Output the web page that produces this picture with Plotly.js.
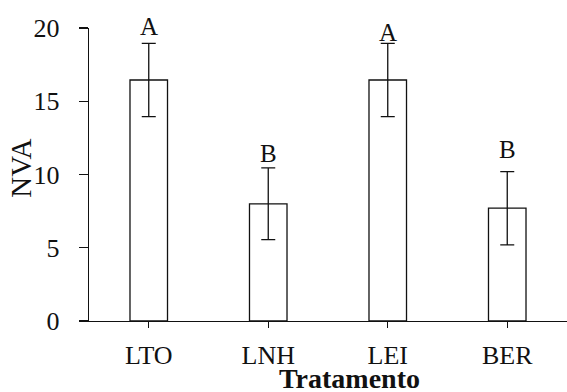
<!DOCTYPE html>
<html>
<head>
<meta charset="utf-8">
<script src="https://cdn.plot.ly/plotly-3.0.1.min.js"></script>
<style>html,body{margin:0;padding:0;background:#fff;}#chart{width:567px;height:392px;}</style>
</head>
<body>
<div id="chart"></div>
<script>
var categories = ["LTO", "LNH", "LEI", "BER"];
var nvaValues = [16.45, 8.0, 16.45, 7.7];
var nvaErrors = [2.5, 2.45, 2.5, 2.5];
var groupLetters = ["A", "B", "A", "B"];
var letterShift = [16, 14, 10, 22];
var yTickValues = [0, 5, 10, 15, 20];

var font = "Liberation Serif";

var trace = {
  type: "bar",
  x: categories,
  y: nvaValues,
  marker: {color: "#ffffff", line: {color: "#111111", width: 1.3}},
  error_y: {type: "data", array: nvaErrors, visible: true, color: "#111111", thickness: 1.3, width: 7},
  hoverinfo: "none"
};

var annotations = categories.map(function (c, i) {
  return {
    x: c, y: nvaValues[i] + nvaErrors[i], xref: "x", yref: "y",
    text: groupLetters[i], showarrow: false, yanchor: "bottom", yshift: letterShift[i] - 15,
    font: {family: font, size: 25, color: "#111111"}
  };
});
annotations.push({
  xref: "paper", yref: "paper", x: -0.142, y: 0.52, text: "NVA", textangle: -90,
  showarrow: false, xanchor: "center", yanchor: "middle",
  font: {family: font, size: 29, color: "#111111"}
});
annotations.push({
  xref: "paper", yref: "paper", x: 0.546, y: -0.136, text: "<b>Tratamento</b>",
  showarrow: false, xanchor: "center", yanchor: "top",
  font: {family: font, size: 28, color: "#111111"}
});

var layout = {
  width: 567, height: 392,
  margin: {l: 89, r: 0, t: 28, b: 71},
  paper_bgcolor: "#ffffff", plot_bgcolor: "#ffffff",
  showlegend: false,
  bargap: 0.686,
  font: {family: font, size: 25, color: "#111111"},
  xaxis: {
    type: "category", range: [-0.5, 3.5],
    showline: true, linecolor: "#111111", linewidth: 1.3,
    ticks: "outside", ticklen: 6, tickcolor: "#111111", tickwidth: 1.3,
    showgrid: false, zeroline: false,
    tickfont: {family: font, size: 26, color: "#111111"},
    ticklabelstandoff: 4
  },
  yaxis: {
    range: [0, 20], tickvals: yTickValues,
    showline: true, linecolor: "#111111", linewidth: 1.3,
    ticks: "outside", ticklen: 9, tickcolor: "#111111", tickwidth: 1.3,
    showgrid: false, zeroline: false,
    tickfont: {family: font, size: 26, color: "#111111"},
    ticklabelstandoff: 14
  },
  annotations: annotations
};

Plotly.newPlot("chart", [trace], layout, {displayModeBar: false, staticPlot: true});
</script>
</body>
</html>
